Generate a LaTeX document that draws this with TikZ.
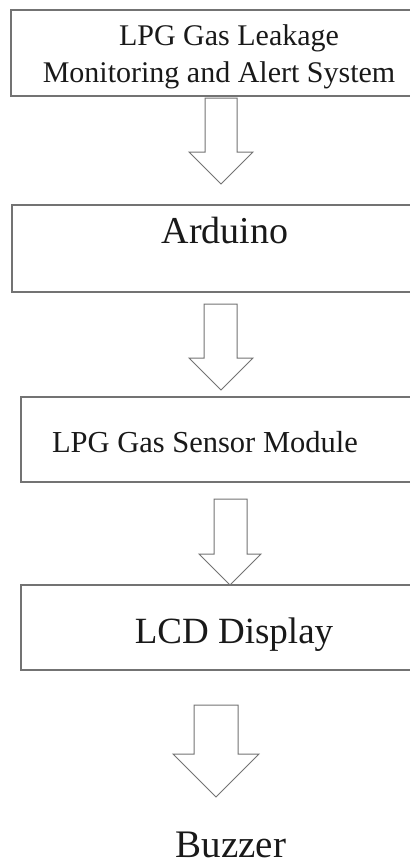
\documentclass[tikz,border=0pt]{standalone}
\usepackage{fontspec}
\setmainfont{Liberation Serif}
\begin{document}
\begin{tikzpicture}[x=1pt,y=-1pt,
  boxstyle/.style={draw=black!55, line width=1.1pt, rectangle, inner sep=0pt},
  blockarrow/.style={draw=black!55, line width=1pt, fill=white, line join=miter},
  lbl/.style={anchor=base, inner sep=0pt, text=black!90}]
\useasboundingbox (0,0) rectangle (410,863);
\clip (0,0) rectangle (410,863);
% boxes
\node[boxstyle, minimum width=409pt, minimum height=86pt] (b1) at (215.5,53) {};
\node[boxstyle, minimum width=408pt, minimum height=87pt] (b2) at (216,248.5) {};
\node[boxstyle, minimum width=399pt, minimum height=85pt] (b3) at (220.5,439.5) {};
\node[boxstyle, minimum width=399pt, minimum height=85pt] (b4) at (220.5,627.5) {};
% texts
\node[lbl, font=\fontsize{30}{36}\selectfont] (t1a) at (229,45) {LPG Gas Leakage};
\node[lbl, font=\fontsize{30}{36}\selectfont] (t1b) at (219,82) {Monitoring and Alert System};
\node[lbl, font=\fontsize{38}{44}\selectfont] (t2) at (225,243) {Arduino};
\node[lbl, font=\fontsize{30.5}{36}\selectfont] (t3) at (205,452) {LPG Gas Sensor Module};
\node[lbl, font=\fontsize{37}{44}\selectfont] (t4) at (234,643) {LCD Display};
\node[lbl, font=\fontsize{39}{46}\selectfont] (t5) at (231,857) {Buzzer};
% block arrows
\newcommand{\blockarr}[7]{% shaftL shaftR top headY headL headR tipY
  \draw[blockarrow] (#1,#3) -- (#2,#3) -- (#2,#4) -- (#6,#4) -- ({(#5+#6)/2},#7) -- (#5,#4) -- (#1,#4) -- cycle;}
\blockarr{205}{237}{98}{152}{189}{253}{184}
\blockarr{204}{237}{304}{358}{189}{253}{390}
\blockarr{214}{247}{499}{554}{199}{261}{585}
\blockarr{194}{238}{705}{754}{173}{259}{797}
\end{tikzpicture}
\end{document}
